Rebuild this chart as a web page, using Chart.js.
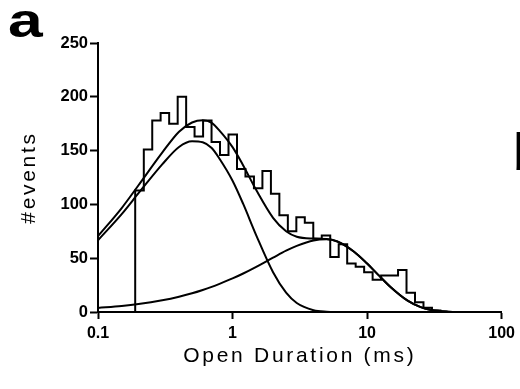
<!DOCTYPE html>
<html><head><meta charset="utf-8">
<script src="https://cdn.jsdelivr.net/npm/chart.js@4.4.1/dist/chart.umd.min.js"></script>
<style>html,body{margin:0;padding:0;background:#fff;} canvas{display:block;}</style>
</head><body>
<canvas id="c" width="520" height="389"></canvas>
<script>
// Histogram: bin edges (ms) and counts per bin
const binEdges = [0.189,0.219,0.253,0.292,0.338,0.391,0.452,0.522,0.604,0.698,0.807,0.933,1.079,1.247,1.442,1.667,1.928,2.228,2.576,2.979,3.443,3.981,4.603,5.321,6.152,7.112,8.222,9.506,10.99,12.71,14.69,16.98,19.63,22.70,26.24,30.34,35.08];
const binCounts = [113,151,178,185,175,200,172,163,178,158,146,165,133,126,115,131,110,90,75,88,83,68,71,51,63,45,42,37,30,34,34,39,18,9,4,1.5];

// Fitted curves
const fitT     = [0.1,0.15,0.2,0.3,0.4,0.5,0.6,0.7,0.8,1,1.2,1.5,2,2.5,3,4,5,6,8,10,12,15,20,25,30,40,50,70,100];
const fitTotal = [70.5,96.6,117.8,148.1,167.6,176.1,178.2,175.8,168.6,153.2,136.2,113.3,87.5,75.0,69.9,68.2,67.8,65.6,56,45,35,23,10.5,4.5,1.8,0.3,0.05,0,0];
const fitFast  = [66.7,91.0,110.4,137.2,153.4,158.7,157.7,152.4,142.4,122.0,100.4,71.3,37.0,18.0,8.4,1.7,0.3,0.05,0,0,0,0,0,0,0,0,0,0,0];
const fitSlow  = [3.8,5.6,7.4,10.9,14.2,17.4,20.5,23.4,26.2,31.2,35.8,42,50.5,57,61.5,66.5,67.5,65.5,56,45,35,23,10.5,4.5,1.8,0.3,0.05,0,0];

const xTicks = [0.1, 1, 10, 100];
const xTickLabels = ['0.1', '1', '10', '100'];
const yTicks = [0, 50, 100, 150, 200, 250];

// step outline: point (edge_i, count_i) holds count_i from edge_i to edge_i+1
const histPts = [{x: binEdges[0], y: 0}];
binCounts.forEach((c, i) => histPts.push({x: binEdges[i], y: c}));
histPts.push({x: binEdges[binEdges.length - 1], y: 0});

const curve = arr => fitT.map((t, i) => ({x: t, y: arr[i]}));

const spacingPlugin = {
  id: 'spacing',
  beforeDraw(chart) {
    Object.values(chart.scales).forEach(s => {
      if (!s._patched) {
        const orig = s.drawTitle;
        s.drawTitle = function () {
          const ctx = this.ctx;
          ctx.save();
          ctx.letterSpacing = '2.7px';
          orig.call(this);
          ctx.restore();
        };
        s._patched = true;
      }
    });
  }
};

const panelPlugin = {
  id: 'panel',
  afterDraw(chart) {
    const ctx = chart.ctx;
    ctx.save();
    ctx.fillStyle = '#000';
    ctx.textBaseline = 'alphabetic';
    ctx.textAlign = 'left';
    ctx.font = 'bold 48px "Liberation Sans"';
    ctx.translate(8, 37);
    ctx.scale(1.3, 1);
    ctx.fillText('a', 0, 0);
    ctx.restore();
    ctx.save();
    ctx.fillStyle = '#000';
    ctx.font = 'bold 52px "Liberation Sans"';
    ctx.textBaseline = 'alphabetic';
    ctx.fillText('b', 513, 170);
    ctx.restore();
  }
};

Chart.defaults.color = '#000';
Chart.defaults.font.family = '"Liberation Sans", Arial, sans-serif';

const lineStyle = {borderColor: '#000', borderWidth: 2, pointRadius: 0, fill: false};

new Chart(document.getElementById('c'), {
  type: 'line',
  data: {
    datasets: [
      Object.assign({label: 'histogram', data: histPts, stepped: 'before'}, lineStyle),
      Object.assign({label: 'total fit', data: curve(fitTotal), cubicInterpolationMode: 'monotone'}, lineStyle),
      Object.assign({label: 'fast component', data: curve(fitFast), cubicInterpolationMode: 'monotone'}, lineStyle),
      Object.assign({label: 'slow component', data: curve(fitSlow), cubicInterpolationMode: 'monotone'}, lineStyle)
    ]
  },
  options: {
    responsive: false,
    animation: false,
    layout: {padding: {left: 0, right: 18, top: 43, bottom: 0}},
    plugins: {legend: {display: false}, tooltip: {enabled: false}},
    scales: {
      x: {
        type: 'logarithmic',
        min: 0.1, max: 100,
        afterBuildTicks(s) { s.ticks = xTicks.map(v => ({value: v})); },
        afterFit(s) { s.height = 77; },
        ticks: {
          autoSkip: false, maxRotation: 0, padding: 5,
          font: {size: 16, weight: 'bold'},
          callback(v) { const i = xTicks.indexOf(v); return i >= 0 ? xTickLabels[i] : ''; }
        },
        grid: {drawOnChartArea: false, drawTicks: true, tickLength: 7, tickWidth: 2, color: '#000'},
        border: {display: true, color: '#000', width: 2},
        title: {display: true, text: 'Open Duration (ms)', font: {size: 21}, padding: {top: 0, bottom: 20}}
      },
      y: {
        type: 'linear',
        min: 0, max: 250,
        afterBuildTicks(s) { s.ticks = yTicks.map(v => ({value: v})); },
        afterFit(s) { s.width = 98; },
        ticks: {padding: 2, font: {size: 16.5, weight: 'bold'}},
        grid: {drawOnChartArea: false, drawTicks: true, tickLength: 8, tickWidth: 2, color: '#000'},
        border: {display: true, color: '#000', width: 2},
        title: {display: true, text: '#events', font: {size: 21}, padding: {top: 17, bottom: 0}}
      }
    }
  },
  plugins: [spacingPlugin, panelPlugin]
});
</script>
</body></html>
